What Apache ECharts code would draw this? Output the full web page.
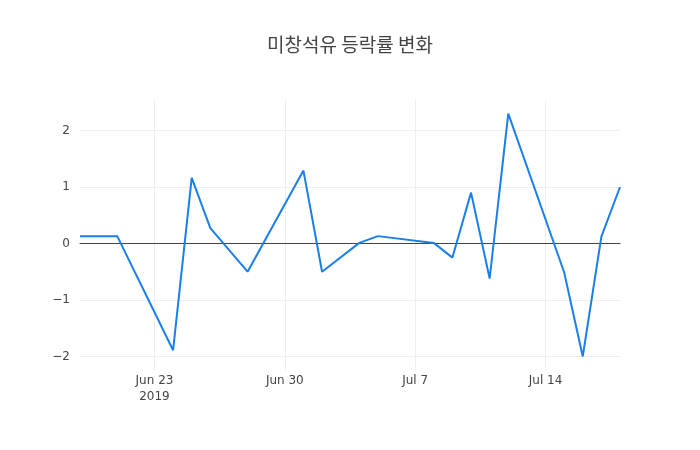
<!DOCTYPE html>
<html>
<head>
<meta charset="utf-8">
<script src="https://cdn.jsdelivr.net/npm/echarts@6/dist/echarts.min.js"></script>
<style>
  html, body { margin: 0; padding: 0; background: #fff; }
  #chart { width: 700px; height: 450px; }
</style>
</head>
<body>
<div id="chart"></div>
<script>
var dates = ['2019-06-19','2019-06-21','2019-06-24','2019-06-25','2019-06-26','2019-06-28',
             '2019-07-01','2019-07-02','2019-07-04','2019-07-05','2019-07-08','2019-07-09',
             '2019-07-10','2019-07-11','2019-07-12','2019-07-15','2019-07-16','2019-07-17','2019-07-18'];
var changes = [0.13, 0.13, -1.89, 1.16, 0.27, -0.50,
               1.29, -0.50, 0.01, 0.13, 0.01, -0.25,
               0.90, -0.62, 2.30, -0.51, -2.00, 0.12, 1.00];
var xTicks = ['2019-06-23','2019-06-30','2019-07-07','2019-07-14'];
var yTicks = [-2, -1, 0, 1, 2];

var months = ['Jan','Feb','Mar','Apr','May','Jun','Jul','Aug','Sep','Oct','Nov','Dec'];

function ms(s) {
  var p = s.split('-');
  return Date.UTC(+p[0], +p[1] - 1, +p[2]);
}

var seriesData = [];
for (var i = 0; i < dates.length; i++) {
  seriesData.push([ms(dates[i]), changes[i]]);
}
var xTickVals = xTicks.map(ms);

var myChart = echarts.init(document.getElementById('chart'));
var option = {
  animation: false,
  title: {
    text: '미창석유 등락률 변화',
    left: 'center',
    top: 30,
    textStyle: {
      fontFamily: '"Noto Sans CJK KR", "Open Sans", sans-serif',
      fontSize: 19,
      fontWeight: 'normal',
      color: '#444'
    }
  },
  grid: { left: 80, right: 80, top: 100, bottom: 80 },
  xAxis: {
    type: 'value',
    min: ms(dates[0]),
    max: ms(dates[dates.length - 1]),
    axisLine: { show: true, onZero: true, lineStyle: { color: '#444', width: 1 } },
    axisTick: { show: false, customValues: xTickVals },
    splitLine: { show: true, lineStyle: { color: '#eee', width: 1 } },
    axisLabel: {
      customValues: xTickVals,
      color: '#444',
      fontSize: 12,
      fontFamily: '"DejaVu Sans", sans-serif',
      lineHeight: 16,
      margin: 3,
      formatter: function (val) {
        var d = new Date(val);
        var s = months[d.getUTCMonth()] + ' ' + d.getUTCDate();
        if (d.getUTCMonth() === 5 && d.getUTCDate() === 23) s += '\n' + d.getUTCFullYear();
        return s;
      }
    }
  },
  yAxis: {
    type: 'value',
    min: -2.24,
    max: 2.54,
    axisLine: { show: false },
    axisTick: { show: false, customValues: yTicks },
    splitLine: { show: true, lineStyle: { color: '#eee', width: 1 } },
    axisLabel: {
      customValues: yTicks,
      color: '#444',
      fontSize: 12,
      fontFamily: '"DejaVu Sans", sans-serif',
      margin: 10,
      formatter: function (v) { return String(v).replace('-', '\u2212'); }
    }
  },
  series: [{
    type: 'line',
    data: seriesData,
    showSymbol: false,
    lineStyle: { color: '#1a7fe8', width: 2 },
    itemStyle: { color: '#1a7fe8' }
  }]
};
myChart.setOption(option);
</script>
</body>
</html>
